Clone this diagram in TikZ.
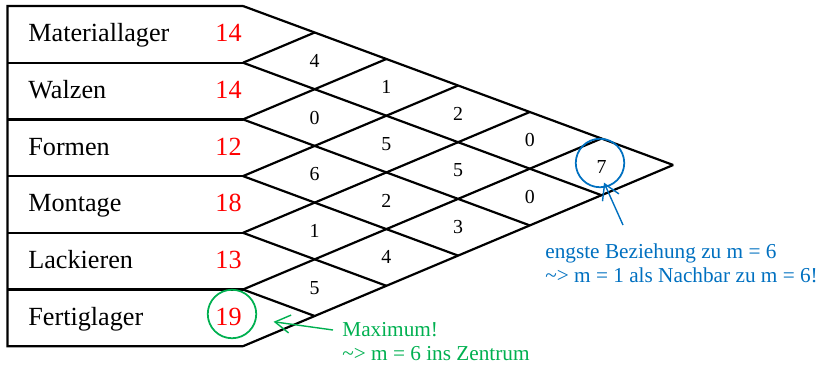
\documentclass[tikz,border=0pt]{standalone}
\usepackage{fontspec}
\setmainfont{Liberation Serif}
\usepackage{xcolor}
\usepackage{tikz}
\usetikzlibrary{positioning, arrows.meta, calc}
\definecolor{sumred}{RGB}{255,0,0}
\definecolor{notegreen}{RGB}{0,176,80}
\definecolor{noteblue}{RGB}{0,112,192}

\begin{document}
\begin{tikzpicture}[
  font=\fontsize{14.9}{17}\selectfont,
  grid/.style={line width=1.25pt, line join=miter},
  rowlab/.style={anchor=base west, inner sep=0pt},
  sumlab/.style={anchor=base east, inner sep=0pt, text=sumred},
  cell/.style={inner sep=0pt, font=\fontsize{11.3}{13}\selectfont},
  ring/.style={draw, circle, line width=1pt, minimum size=0.97cm, inner sep=0pt},
  note/.style={anchor=north west, align=left, inner sep=0pt,
               font=\fontsize{12.1}{13.6}\selectfont},
  notearrow/.style={-{Straight Barb[length=3mm, width=3.6mm]}, line width=0.8pt}
]
\useasboundingbox (0,0) rectangle (16.4,-7.3);
\foreach \k in {0,...,6}{
  \foreach \m in {\k,...,6}
    \coordinate (v\m-\k) at ({4.86+1.434*(\m-\k)}, {-0.12-0.53*\m-0.604*\k});
}
\draw[grid] (v0-0) -- (0.15,-0.12) -- (0.15,-6.924) -- (v6-6);
\foreach \k in {1,...,5}
  \draw[grid] (0.15,{-0.12-1.134*\k}) -- (v\k-\k);
\foreach \k in {0,...,5}
  \draw[grid] (v\k-\k) -- (v6-\k);
\foreach \m in {1,...,6}
  \draw[grid] (v\m-\m) -- (v\m-0);
\foreach \i/\lab/\tot in {1/Materiallager/14, 2/Walzen/14, 3/Formen/12,
                          4/Montage/18, 5/Lackieren/13, 6/Fertiglager/19}{
  \node[rowlab] (r\i) at (0.56,{-0.834-1.134*(\i-1)}) {\lab};
  \node[sumlab] (s\i) at (4.84,{-0.834-1.134*(\i-1)}) {\tot};
}
\foreach \i/\j/\val in {1/2/4, 2/3/0, 3/4/6, 4/5/1, 5/6/5, 1/3/1, 2/4/5, 3/5/2,
                        4/6/4, 1/4/2, 2/5/5, 3/6/3, 1/5/0, 2/6/0, 1/6/7}
  \node[cell] (c\i\j) at ({4.86+1.434*(\j-\i)},
                          {-0.12-0.53*(\j-0.5)-0.604*(\i-0.5)}) {\val};
\node[ring, draw=notegreen] (ring19) at (4.64,-6.28) {};
\node[ring, draw=noteblue] (ring7) at (12.0,-3.26) {};
\node[note, text=notegreen] (maxnote) at (6.84,-6.45)
  {Maximum!\\\textasciitilde> m = 6 ins Zentrum};
\node[note, text=noteblue] (nbnote) at (10.9,-4.87)
  {engste Beziehung zu m = 6\\\textasciitilde> m = 1 als Nachbar zu m = 6!};
\draw[notearrow, notegreen] ([shift={(-0.18,-0.15)}]maxnote.north west)
  -- ([shift={(0.33,-0.155)}]ring19.east);
\draw[notearrow, noteblue] ([shift={(1.56,0.37)}]nbnote.north west)
  -- ([shift={(0.08,0.11)}]ring7.south);
\end{tikzpicture}
\end{document}
